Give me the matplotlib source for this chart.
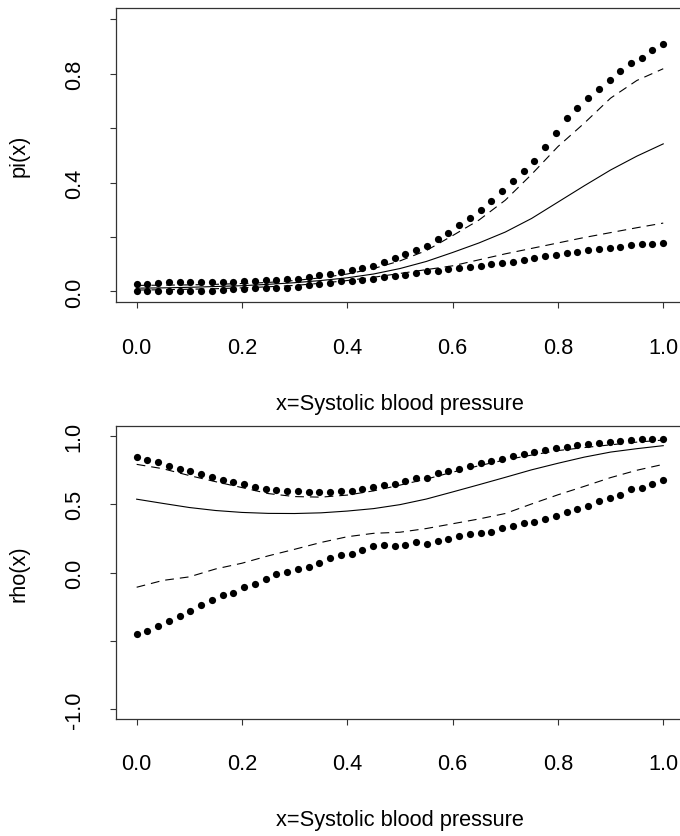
import numpy as np
import matplotlib
matplotlib.use("Agg")
import matplotlib.pyplot as plt

plt.rcParams["font.family"] = ["Liberation Sans", "DejaVu Sans"]
plt.rcParams["lines.scale_dashes"] = False

# evaluation grids
x_dots = np.linspace(0, 1, 50)
x_curve = np.linspace(0, 1, 21)

# ---- panel 1: pi(x) ----
pi_dots_upper = [0.028, 0.029, 0.031, 0.033, 0.033, 0.033, 0.033, 0.033, 0.034, 0.035,
                 0.039, 0.039, 0.042, 0.042, 0.044, 0.046, 0.052, 0.060, 0.064, 0.072,
                 0.078, 0.086, 0.094, 0.108, 0.123, 0.137, 0.152, 0.167, 0.193, 0.214,
                 0.244, 0.270, 0.300, 0.332, 0.369, 0.406, 0.443, 0.480, 0.532, 0.583,
                 0.636, 0.675, 0.712, 0.745, 0.778, 0.809, 0.838, 0.859, 0.886, 0.908]
pi_dots_lower = [0.001, 0.001, 0.001, 0.001, 0.001, 0.001, 0.002, 0.002, 0.005, 0.008,
                 0.008, 0.011, 0.011, 0.012, 0.013, 0.017, 0.023, 0.029, 0.031, 0.037,
                 0.039, 0.042, 0.045, 0.052, 0.057, 0.061, 0.068, 0.074, 0.076, 0.082,
                 0.087, 0.091, 0.094, 0.100, 0.104, 0.109, 0.114, 0.122, 0.129, 0.135,
                 0.141, 0.146, 0.153, 0.156, 0.161, 0.164, 0.169, 0.173, 0.175, 0.178]
pi_hat = [0.012, 0.013, 0.015, 0.018, 0.021, 0.026, 0.032, 0.040, 0.050, 0.064, 0.084,
          0.110, 0.143, 0.178, 0.218, 0.268, 0.328, 0.388, 0.446, 0.497, 0.542]
pi_band_upper = [0.022, 0.023, 0.024, 0.026, 0.029, 0.033, 0.040, 0.050, 0.064, 0.084, 0.112,
                 0.150, 0.205, 0.262, 0.335, 0.430, 0.532, 0.618, 0.710, 0.775, 0.818]
pi_band_lower = [0.005, 0.006, 0.008, 0.010, 0.013, 0.017, 0.022, 0.030, 0.040, 0.052, 0.066,
                 0.080, 0.094, 0.116, 0.138, 0.158, 0.178, 0.198, 0.216, 0.234, 0.251]

# ---- panel 2: rho(x) ----
rho_dots_upper = [0.843, 0.821, 0.806, 0.777, 0.755, 0.740, 0.721, 0.701, 0.679, 0.660,
                  0.645, 0.628, 0.608, 0.601, 0.594, 0.594, 0.586, 0.586, 0.588, 0.596,
                  0.596, 0.610, 0.625, 0.640, 0.650, 0.669, 0.689, 0.694, 0.728, 0.743,
                  0.757, 0.777, 0.799, 0.816, 0.833, 0.853, 0.868, 0.882, 0.895, 0.910,
                  0.917, 0.934, 0.939, 0.949, 0.954, 0.961, 0.968, 0.976, 0.976, 0.976]
rho_dots_lower = [-0.451, -0.429, -0.394, -0.355, -0.318, -0.282, -0.238, -0.201, -0.164, -0.149,
                  -0.105, -0.085, -0.046, -0.010, 0.005, 0.027, 0.042, 0.071, 0.108, 0.130,
                  0.137, 0.162, 0.191, 0.204, 0.191, 0.199, 0.221, 0.211, 0.228, 0.243,
                  0.265, 0.279, 0.287, 0.300, 0.329, 0.343, 0.363, 0.373, 0.395, 0.415,
                  0.446, 0.463, 0.488, 0.522, 0.542, 0.571, 0.608, 0.620, 0.645, 0.674]
rho_hat = [0.537, 0.506, 0.476, 0.454, 0.440, 0.433, 0.432, 0.437, 0.450, 0.468, 0.497,
           0.538, 0.590, 0.643, 0.697, 0.752, 0.800, 0.845, 0.882, 0.907, 0.929]
rho_band_upper = [0.792, 0.760, 0.710, 0.665, 0.622, 0.578, 0.556, 0.552, 0.567, 0.598, 0.640,
                  0.684, 0.735, 0.782, 0.825, 0.860, 0.893, 0.915, 0.935, 0.955, 0.970]
rho_band_lower = [-0.108, -0.058, -0.032, 0.026, 0.068, 0.122, 0.170, 0.220, 0.262, 0.287, 0.295,
                  0.322, 0.357, 0.392, 0.432, 0.502, 0.569, 0.631, 0.695, 0.749, 0.792]

x_ticks = [0.0, 0.2, 0.4, 0.6, 0.8, 1.0]
x_ticklabels = ["0.0", "0.2", "0.4", "0.6", "0.8", "1.0"]
pi_ticks = [0.0, 0.2, 0.4, 0.6, 0.8, 1.0]
pi_ticklabels = ["0.0", "", "0.4", "", "0.8", ""]
rho_ticks = [-1.0, -0.5, 0.0, 0.5, 1.0]
rho_ticklabels = ["-1.0", "", "0.0", "0.5", "1.0"]
x_title = "x=Systolic blood pressure"

W, H = 680, 837
FS = 15.7
AX_COL = "#333333"
DASH = (0, (6.3, 4.3))
MS = 5.2


def panel(rect, dots_hi, dots_lo, est, band_hi, band_lo, ylim, yticks, ylabels, ylab):
    ax = fig.add_axes(rect)
    ax.plot(x_dots, dots_hi, "o", ms=MS, color="black", mec="none")
    ax.plot(x_dots, dots_lo, "o", ms=MS, color="black", mec="none")
    ax.plot(x_curve, est, "-", color="black", lw=0.8)
    ax.plot(x_curve, band_hi, color="black", lw=0.8, linestyle=DASH)
    ax.plot(x_curve, band_lo, color="black", lw=0.8, linestyle=DASH)
    ax.set_xlim(-0.04, 1.04)
    ax.set_ylim(*ylim)
    ax.set_xticks(x_ticks)
    ax.set_xticklabels(x_ticklabels, fontsize=FS)
    ax.set_yticks(yticks)
    ax.set_yticklabels(ylabels, fontsize=FS, rotation=90, va="center")
    for s in ax.spines.values():
        s.set_color(AX_COL)
        s.set_linewidth(0.9)
    ax.tick_params(axis="both", direction="out", length=4.3, width=0.8,
                   color=AX_COL, labelcolor="black")
    ax.tick_params(axis="x", pad=20.5)
    ax.tick_params(axis="y", pad=18.0)
    ax.set_xlabel(x_title, fontsize=FS, va="center")
    ax.set_ylabel(ylab, fontsize=FS, va="center")
    return ax


fig = plt.figure(figsize=(W / 100, H / 100), dpi=100)

left = 115.6 / W
width = 568.7 / W

ax1 = panel([left, (H - 303.3) / H, width, 294.0 / H],
            pi_dots_upper, pi_dots_lower, pi_hat, pi_band_upper, pi_band_lower,
            (-0.04, 1.04), pi_ticks, pi_ticklabels, "pi(x)")
ax1.xaxis.set_label_coords(0.5, (303.3 - 405.0) / 294.0)
ax1.yaxis.set_label_coords((19.0 - 115.6) / 568.7, 0.5)

ax2 = panel([left, (H - 720.0) / H, width, 293.0 / H],
            rho_dots_upper, rho_dots_lower, rho_hat, rho_band_upper, rho_band_lower,
            (-1.073, 1.073), rho_ticks, rho_ticklabels, "rho(x)")
ax2.xaxis.set_label_coords(0.5, (720.0 - 821.0) / 293.0)
ax2.yaxis.set_label_coords((19.0 - 115.6) / 568.7, 0.5)

fig.savefig("out.png", dpi=100)
